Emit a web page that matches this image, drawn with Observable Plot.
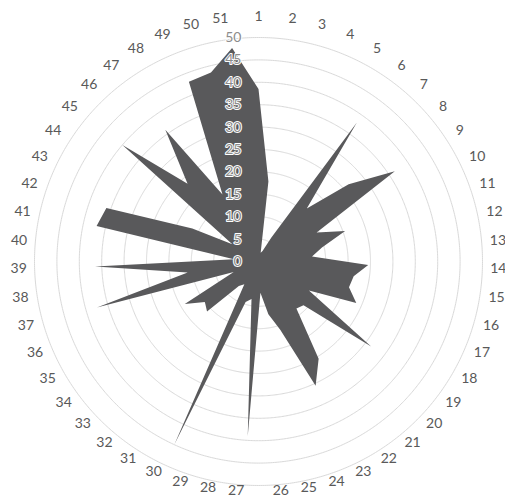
<!DOCTYPE html>
<html><head><meta charset="utf-8">
<script src="https://cdn.jsdelivr.net/npm/d3@7"></script>
<script src="https://cdn.jsdelivr.net/npm/@observablehq/plot@0.6"></script>
<style>html,body{margin:0;padding:0;background:#fff;}</style>
</head><body><div id="chart"></div>
<script>
const categories = ["1","2","3","4","5","6","7","8","9","10","11","12","13","14","15","16","17","18","19","20","21","22","23","24","25","26","27","28","29","30","31","32","33","34","35","36","37","38","39","40","41","42","43","44","45","46","47","48","49","50","51"];
const values = [38.5,18,2,2.5,6,38,16,26.5,36.5,14.5,20.5,14.5,12,24.5,21.5,21,23.7,13,31.5,14,13.5,25.5,30.5,16,12,7,39,8.5,9.5,45,6,7,16,15,19,6,37.5,16,36.5,5.5,37,36,16.5,7,40,23.5,36,17,43,43.5,48];
const ticks = [0,5,10,15,20,25,30,35,40,45,50];

const n = categories.length;
const maxV = ticks[ticks.length - 1];
const data = categories.map((c, i) => ({cat: c, idx: i, value: values[i]}));
const lon = d3.scaleLinear().domain([0, n]).range([180, -180]);
const ang = i => i * 2 * Math.PI / n;
const pxPerUnit = 224 / maxV;
const labelLat = d => {
  const c = Math.cos(ang(d.idx));
  const extra = c >= 0 ? 7 * c + 6 * c * c * c : 7 * -c - 9 * Math.pow(-c, 3);
  return 90 - (51.7 + extra / pxPerUnit);
};
const side = d => { const s = Math.sin(ang(d.idx)); return Math.abs(s) < 0.01 ? "middle" : s > 0 ? "start" : "end"; };
const labelStyle = {x: d => lon(d.idx), y: labelLat, text: "cat", fill: "#595959", fontSize: 14};

const plot = Plot.plot({
  width: 505, height: 499,
  marginLeft: 34, marginRight: 23, marginTop: 37, marginBottom: 14,
  projection: {type: "azimuthal-equidistant", rotate: [0, -90], clip: false, domain: d3.geoCircle().center([0, 90]).radius(maxV)()},
  style: {fontFamily: "Lato, 'Open Sans', sans-serif", background: "white", overflow: "visible"},
  marks: [
    Plot.geo(ticks.filter(t => t > 0), {geometry: r => d3.geoCircle().center([0, 90]).radius(r).precision(0.5)(), stroke: "#d9d9d9", strokeWidth: 1, fill: "none"}),
    Plot.line(data, {x: d => lon(d.idx), y: d => 90 - d.value, curve: "linear-closed", fill: "#59595b", stroke: "none"}),
    Plot.text(ticks, {x: 180, y: t => 90 - t, text: t => String(t), textAnchor: "end", dx: -17, fill: "#8c8c8c", stroke: "white", strokeWidth: 2, fontSize: 14}),
    Plot.text(data, {...labelStyle, filter: d => side(d) === "middle", textAnchor: "middle"}),
    Plot.text(data, {...labelStyle, filter: d => side(d) === "start", textAnchor: "start"}),
    Plot.text(data, {...labelStyle, filter: d => side(d) === "end", textAnchor: "end"})
  ]
});
document.getElementById("chart").appendChild(plot);
</script>
</body></html>
